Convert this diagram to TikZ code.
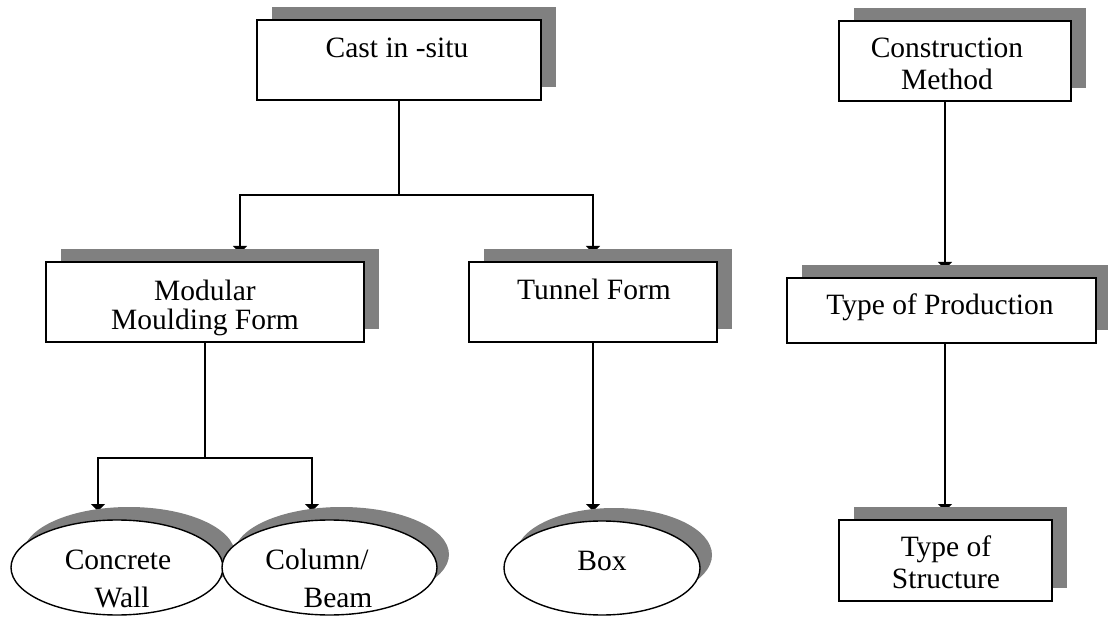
\documentclass[tikz,border=0pt]{standalone}
\usepackage{fontspec}
\setmainfont{Liberation Serif}
\usetikzlibrary{shapes.geometric,shadows,arrows.meta}
\pgfdeclarelayer{background}
\pgfsetlayers{background,main}
\definecolor{shadowgray}{HTML}{808080}
\tikzset{
  x=1pt, y=1pt,
  every node/.style={font=\fontsize{29.5}{32}\selectfont},
  label text/.style={anchor=base, inner sep=0pt},
  boxshape/.style={draw, line width=1.4pt, fill=white, inner sep=0pt, outer sep=0pt,
    general shadow={shadow xshift=15pt, shadow yshift=13pt, fill=shadowgray, draw=none}},
  ovalshape/.style={ellipse, draw, line width=1.4pt, fill=white, inner sep=0pt, outer sep=0pt,
    general shadow={shadow xshift=12pt, shadow yshift=13pt, fill=shadowgray, draw=none}},
  link/.style={line width=1.3pt},
  arr/.style={link, -{Triangle[width=14pt,length=7pt]}}
}
\begin{document}
\begin{tikzpicture}
\useasboundingbox (0,0) rectangle (1108,616);

% rectangular boxes
\node[boxshape, minimum width=284pt, minimum height=80pt] (cast) at (399,556) {};
\node[boxshape, minimum width=318pt, minimum height=80pt] (modular) at (205,314) {};
\node[boxshape, minimum width=248pt, minimum height=80pt] (tunnel) at (593,314) {};
\node[boxshape, minimum width=232pt, minimum height=80pt] (method) at (955,555) {};
\node[boxshape, minimum width=309pt, minimum height=65pt] (production) at (941.5,305.5) {};
\node[boxshape, minimum width=213pt, minimum height=81pt] (structure) at (945.5,55.5) {};

% oval leaves
\node[ovalshape, minimum width=212pt, minimum height=95pt] (wall) at (117,48.5) {};
\node[ovalshape, minimum width=215pt, minimum height=95pt] (column) at (329.5,48.5) {};
\node[ovalshape, minimum width=196pt, minimum height=94pt] (box) at (602,48) {};

% texts
\node[label text] (tcast) at (397,558) {Cast in -situ};
\node[label text] (tmod1) at (205,315) {Modular};
\node[label text] (tmod2) at (205,286) {Moulding Form};
\node[label text] (ttun) at (594,316) {Tunnel Form};
\node[label text] (tmet1) at (947,558) {Construction};
\node[label text] (tmet2) at (947,526) {Method};
\node[label text] (tprod) at (940,301) {Type of Production};
\node[label text] (tstr1) at (946,60) {Type of};
\node[label text] (tstr2) at (946,28) {Structure};
\node[label text] (twall1) at (118,47) {Concrete};
\node[label text] (twall2) at (122,9) {Wall};
\node[label text] (tcol1) at (317,47) {Column/};
\node[label text] (tcol2) at (338,9) {Beam};
\node[label text] (tbox) at (602,46) {Box};

% junctions and arrow targets (tips end just under the shadows)
\coordinate (j1) at (399,421);
\coordinate (j2) at (205,158);
\coordinate (modIn) at (240,363);
\coordinate (tunIn) at (593,363);
\coordinate (wallIn) at (98,105);
\coordinate (colIn) at (312,105);
\coordinate (boxIn) at (593,105);
\coordinate (prodIn) at (945,347);
\coordinate (strIn) at (945,105);

\begin{pgfonlayer}{background}
  \draw[link] (cast.south) -- (j1);
  \draw[arr] (j1) -| (modIn);
  \draw[arr] (j1) -| (tunIn);
  \draw[link] (modular.south) -- (j2);
  \draw[arr] (j2) -| (wallIn);
  \draw[arr] (j2) -| (colIn);
  \draw[arr] (tunnel.south) -- (boxIn);
  \draw[arr] (method.south -| prodIn) -- (prodIn);
  \draw[arr] (production.south -| strIn) -- (strIn);
\end{pgfonlayer}
\end{tikzpicture}
\end{document}
